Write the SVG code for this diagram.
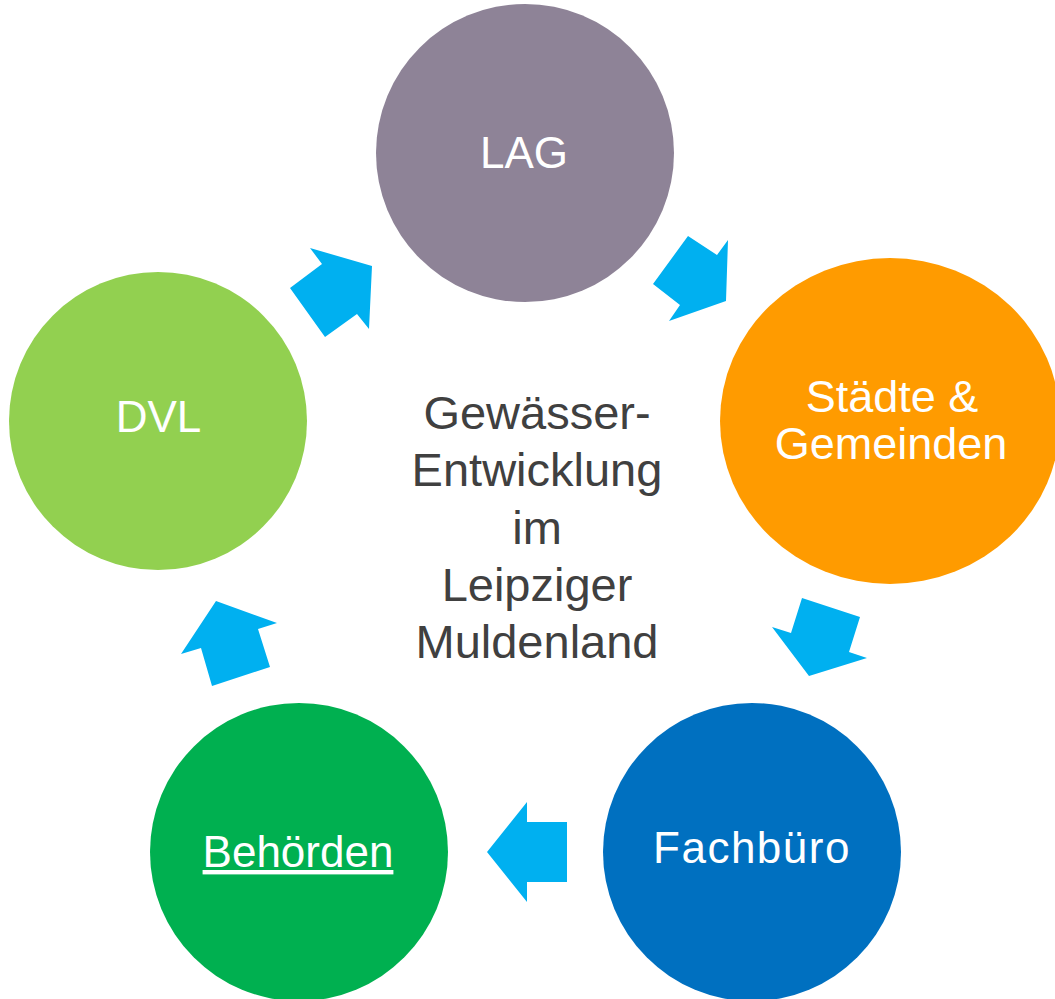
<svg xmlns="http://www.w3.org/2000/svg" width="1055" height="999" viewBox="0 0 1055 999">
<style>
.lbl{font-family:"Liberation Sans",Arial,sans-serif;font-size:44px;fill:#FFFFFF;text-anchor:middle}
.big{font-size:45px}
.ctr{font-family:"Liberation Sans",Arial,sans-serif;font-size:47px;fill:#404040;text-anchor:middle}
.arr{fill:#00B0F0}
</style>
<rect width="1055" height="999" fill="#FFFFFF"/>
<g id="center-text">
<text class="ctr" x="537" y="429">Gewässer-</text>
<text class="ctr" x="537" y="486">Entwicklung</text>
<text class="ctr" x="537" y="544">im</text>
<text class="ctr" x="537" y="601">Leipziger</text>
<text class="ctr" x="537" y="658">Muldenland</text>
</g>
<g id="node-lag">
<circle cx="525" cy="153" r="149" fill="#8E8397"/>
<text class="lbl" x="524" y="168">LAG</text>
</g>
<g id="node-staedte">
<ellipse cx="890" cy="421" rx="170" ry="163" fill="#FF9B00"/>
<text class="lbl big" x="892" y="412">Städte &amp;</text>
<text class="lbl big" x="891" y="459">Gemeinden</text>
</g>
<g id="node-fachbuero">
<circle cx="752" cy="852" r="149" fill="#0070C0"/>
<text class="lbl" x="752" y="863" style="letter-spacing:1.5px">Fachbüro</text>
</g>
<g id="node-behoerden">
<circle cx="299" cy="852" r="149" fill="#00B050"/>
<text class="lbl" x="298" y="867" text-decoration="underline">Behörden</text>
</g>
<g id="node-dvl">
<circle cx="158" cy="421" r="149" fill="#92D050"/>
<text class="lbl" x="158.5" y="432">DVL</text>
</g>
<g id="connectors">
<polygon class="arr" points="688,236 717,255 728,240 726,301 669,321 680,305 653,284"/>
<polygon class="arr" points="802,598 860,617 849,652 867,658 809,676 772,627 791,633"/>
<polygon class="arr" points="527,802 527,822 567,822 567,882 527,882 527,902 487,852"/>
<polygon class="arr" points="216,601 277,623 258,629 270,667 212,686 201,648 181,654"/>
<polygon class="arr" points="310,248 372,266 369,329 357,314 325,337 290,288 322,264"/>
</g>
</svg>
